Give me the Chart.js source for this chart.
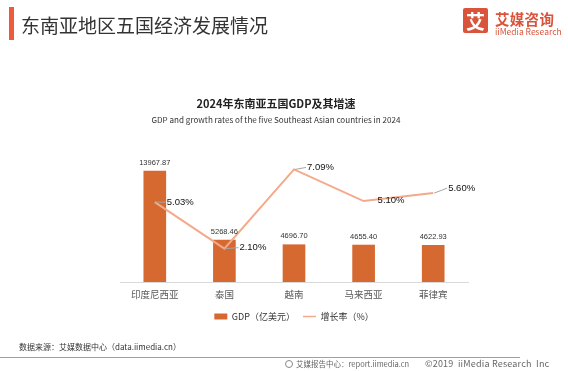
<!DOCTYPE html>
<html>
<head>
<meta charset="utf-8">
<script src="https://cdn.jsdelivr.net/npm/chart.js@4.4.0/dist/chart.umd.min.js"></script>
<style>
html, body { margin: 0; padding: 0; background: #fff; }
#wrap { position: relative; width: 568px; height: 371px; overflow: hidden; font-family: "Noto Sans CJK SC", "Noto Sans", sans-serif; }
#chart { position: absolute; left: 0; top: 0; }
.abs { position: absolute; white-space: nowrap; }
</style>
</head>
<body>
<div id="wrap">
  <canvas id="chart" width="568" height="371"></canvas>

  <!-- header -->
  <div class="abs" style="left:9px;top:7px;width:5px;height:33px;background:#ef5b3a"></div>
  <div class="abs" style="left:21px;top:13px;font-size:19px;line-height:24px;color:#333">东南亚地区五国经济发展情况</div>

  <!-- logo -->
  <div class="abs" style="left:463px;top:8px;width:25px;height:25px;background:#d9543b;border-radius:2px;color:#fff;font-size:19px;font-weight:bold;line-height:25px;text-align:center">艾</div>
  <div class="abs" style="left:495px;top:10px;font-size:14.5px;font-weight:bold;line-height:17px;color:#d9543b;letter-spacing:0.3px">艾媒咨询</div>
  <div class="abs" style="left:495px;top:26px;font-size:8.5px;line-height:10px;color:#d9543b">iiMedia Research</div>

  <!-- chart titles -->
  <div class="abs" style="left:0;width:552px;top:96px;text-align:center;font-size:11px;font-weight:bold;line-height:14px;color:#222">2024年东南亚五国GDP及其增速</div>
  <div class="abs" style="left:0;width:552px;top:115px;text-align:center;font-size:8.1px;line-height:10px;color:#333">GDP and growth rates of the five Southeast Asian countries in 2024</div>

  <!-- footer -->
  <div class="abs" style="left:19px;top:342px;font-size:8px;line-height:10px;color:#333">数据来源：艾媒数据中心（data.iimedia.cn）</div>
  <div class="abs" style="left:0;top:357px;width:520px;height:1px;background:#a0a0a0"></div>
  <div class="abs" style="left:285px;top:360px;width:6px;height:6px;border:1px solid #888;border-radius:50%"></div>
  <div class="abs" style="left:296px;top:359px;font-size:7.5px;line-height:10px;color:#666">艾媒报告中心：report.iimedia.cn</div>
  <div class="abs" style="left:425px;top:359px;font-size:9px;line-height:10px;color:#666;letter-spacing:0.2px">©2019&nbsp;&nbsp;iiMedia Research&nbsp;&nbsp;Inc</div>
</div>

<script>
//----- DATA -----//
const categories = ['印度尼西亚', '泰国', '越南', '马来西亚', '菲律宾'];
const gdpValues = [13967.87, 5268.46, 4696.70, 4655.40, 4622.93];
const growthValues = [5.03, 2.10, 7.09, 5.10, 5.60];

const barColor = '#d5692f';
const lineColor = '#f4a98a';

// where each growth label sits relative to its point (dx, dy)
const pctLabelOffsets = [[12, 0], [15, -1], [13, -2], [14, -1], [15, -5]];
const pctLeaders = [true, true, true, false, true];

//----- LABEL PLUGIN -----//
const valueLabels = {
    id: 'valueLabels',
    afterDatasetsDraw(chart) {
        const ctx = chart.ctx;
        ctx.save();

        // bar values above bars
        const barMeta = chart.getDatasetMeta(0);
        ctx.font = '7.5px "Liberation Sans", Arial, sans-serif';
        ctx.fillStyle = '#333';
        ctx.textAlign = 'center';
        ctx.textBaseline = 'middle';
        barMeta.data.forEach((bar, i) => {
            ctx.fillText(gdpValues[i].toFixed(2), bar.x, bar.y - 8.5);
        });

        // growth values with little leader lines
        const lineMeta = chart.getDatasetMeta(1);
        ctx.font = '9.5px "Liberation Sans", Arial, sans-serif';
        ctx.textAlign = 'left';
        lineMeta.data.forEach((pt, i) => {
            const [dx, dy] = pctLabelOffsets[i];
            if (pctLeaders[i]) {
                ctx.strokeStyle = '#a6a6a6';
                ctx.lineWidth = 1;
                ctx.beginPath();
                ctx.moveTo(pt.x + 1, pt.y);
                ctx.lineTo(pt.x + dx - 1, pt.y + dy);
                ctx.stroke();
            }
            ctx.fillStyle = '#111';
            ctx.fillText(growthValues[i].toFixed(2) + '%', pt.x + dx, pt.y + dy);
        });
        ctx.restore();
    }
};

//----- CONFIG -----//
const config = {
    type: 'bar',
    data: {
        labels: categories,
        datasets: [{
            type: 'bar',
            label: 'GDP（亿美元）',
            data: gdpValues,
            backgroundColor: barColor,
            borderWidth: 0,
            barThickness: 22,
            yAxisID: 'y',
            order: 1
        }, {
            type: 'line',
            label: '增长率（%）',
            data: growthValues,
            borderColor: lineColor,
            backgroundColor: lineColor,
            borderWidth: 2,
            pointRadius: 0,
            tension: 0,
            yAxisID: 'y1',
            order: 0
        }]
    },
    options: {
        responsive: false,
        animation: false,
        layout: { padding: { left: 120, right: 100, top: 155, bottom: 40 } },
        plugins: {
            tooltip: { enabled: false },
            legend: {
                position: 'bottom',
                labels: {
                    usePointStyle: true,
                    pointStyleWidth: 13,
                    boxHeight: 6,
                    padding: 8,
                    color: '#333',
                    font: { family: '"Noto Sans CJK SC"', size: 9 },
                    sort: (a, b) => a.datasetIndex - b.datasetIndex,
                    generateLabels(chart) {
                        const items = Chart.defaults.plugins.legend.labels.generateLabels(chart);
                        items.forEach(it => {
                            it.pointStyle = it.datasetIndex === 0 ? 'rect' : 'line';
                            if (it.datasetIndex === 0) it.lineWidth = 0;
                            else it.lineWidth = 1.5;
                        });
                        return items;
                    }
                }
            }
        },
        scales: {
            x: {
                grid: { display: false, drawTicks: false },
                border: { display: true, color: '#d9d9d9', width: 1 },
                ticks: {
                    color: '#595959',
                    padding: 7,
                    font: { family: '"Noto Sans CJK SC"', size: 9.5 }
                },
                afterFit(axis) { axis.height = 22; }
            },
            y: { display: false, min: 0, max: 16000 },
            y1: { display: false, min: 0, max: 8, position: 'right' }
        }
    },
    plugins: [valueLabels]
};

//----- RENDER -----//
const gdpChart = new Chart(document.getElementById('chart'), config);
</script>
</body>
</html>
